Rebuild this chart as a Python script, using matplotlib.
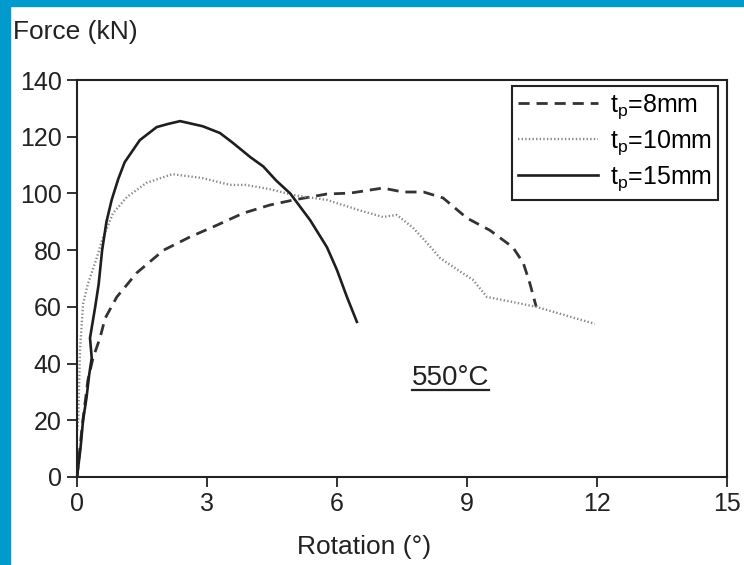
import matplotlib.pyplot as plt
from matplotlib.patches import Rectangle

plt.rcParams['font.family'] = ['Liberation Sans', 'DejaVu Sans']
plt.rcParams['mathtext.fontset'] = 'custom'
plt.rcParams['mathtext.rm'] = 'Liberation Sans'
plt.rcParams['lines.scale_dashes'] = False

# rotation (deg) / force (kN)
rot_8 = [0, 0.12, 0.25, 0.37, 0.53, 0.65, 0.92, 1.38, 2.0, 2.6, 3.23, 3.83, 4.45, 5.0,
         5.77, 6.3, 7.06, 7.52, 8.0, 8.45, 9.0, 9.53, 10.06, 10.3, 10.45, 10.6]
force_8 = [0, 18, 34, 42, 49, 56, 63.5, 72, 80, 84.6, 88.8, 93, 95.9, 97.7,
           99.8, 100.1, 101.9, 100.5, 100.5, 98.4, 91.3, 87, 81, 75.5, 68.4, 60]

rot_10 = [0, -0.05, 0.03, 0.07, 0.14, 0.25, 0.45, 0.58, 0.83, 1.15, 1.6, 2.2, 2.9, 3.53,
          3.9, 4.45, 5.0, 5.77, 6.53, 7.06, 7.38, 7.75, 8.08, 8.38, 8.79, 9.14, 9.46,
          10.06, 10.6, 11.95]
force_10 = [0, 8, 21, 45, 61, 68, 77, 83.6, 93, 98.7, 103.7, 106.8, 105.4, 103,
            103, 101.5, 99.4, 97.7, 94, 91.7, 92.4, 88, 82.5, 77.2, 73, 69.5, 63.5,
            61.7, 60, 54]

rot_15 = [0, 0.08, 0.14, 0.22, 0.28, 0.34, 0.3, 0.42, 0.5, 0.58, 0.68, 0.8, 0.95, 1.1,
          1.45, 1.84, 2.1, 2.38, 2.9, 3.3, 3.6, 4.0, 4.3, 4.6, 4.92, 5.38, 5.77, 6.0,
          6.23, 6.46]
force_15 = [0, 10, 20, 28, 36, 42, 49, 60, 68, 80, 90, 97.7, 105, 111,
            118.8, 123.4, 124.5, 125.5, 123.7, 121.3, 117.8, 112.8, 109.5, 104.5, 100,
            90.6, 81, 73, 63.5, 54.7]

labels = ['t$_\\mathrm{p}$=8mm', 't$_\\mathrm{p}$=10mm', 't$_\\mathrm{p}$=15mm']
x_ticks = [0, 3, 6, 9, 12, 15]
y_ticks = [0, 20, 40, 60, 80, 100, 120, 140]

fig = plt.figure(figsize=(7.44, 5.65), dpi=100)
ax = fig.add_axes([0.1035, 0.1558, 0.8735, 0.7026])

ax.plot(rot_8, force_8, color='#333333', lw=2.0, dashes=(8, 5), label=labels[0])
ax.plot(rot_10, force_10, color='#8a8a8a', lw=1.7, linestyle=(0, (1, 1.6)), label=labels[1])
ax.plot(rot_15, force_15, color='#1e1e1e', lw=1.9, label=labels[2])

ax.set_xlim(0, 15)
ax.set_ylim(0, 140)
ax.set_xticks(x_ticks)
ax.set_yticks(y_ticks)
ax.tick_params(labelsize=18, length=7, width=1.3, direction='out', colors='#222222', pad=4)
for s in ax.spines.values():
    s.set_linewidth(1.5)
    s.set_color('#222222')

leg = ax.legend(loc='upper right', bbox_to_anchor=(0.986, 0.985), fontsize=18,
                fancybox=False, edgecolor='#222222', framealpha=1, borderaxespad=0,
                handlelength=3.2, labelspacing=0.3, borderpad=0.25, handletextpad=0.45)
leg.get_frame().set_linewidth(1.5)

ax.text(8.63, 35, '550°C', fontsize=20, ha='center', va='center', color='#222222')
ax.plot([7.73, 9.5], [30.5, 30.5], color='#222222', lw=1.6)

fig.text(0.018, 0.943, 'Force (kN)', fontsize=19, ha='left', va='center', color='#222222')
fig.text(0.49, 0.032, 'Rotation (°)', fontsize=19, ha='center', va='center', color='#222222')

# blue frame
fig.patches.append(Rectangle((0, 1 - 6 / 565), 1, 6 / 565, transform=fig.transFigure,
                             color='#009ACD', zorder=10))
fig.patches.append(Rectangle((0, 0), 10 / 744, 1, transform=fig.transFigure,
                             color='#009ACD', zorder=10))

fig.savefig('out.png', dpi=100)
